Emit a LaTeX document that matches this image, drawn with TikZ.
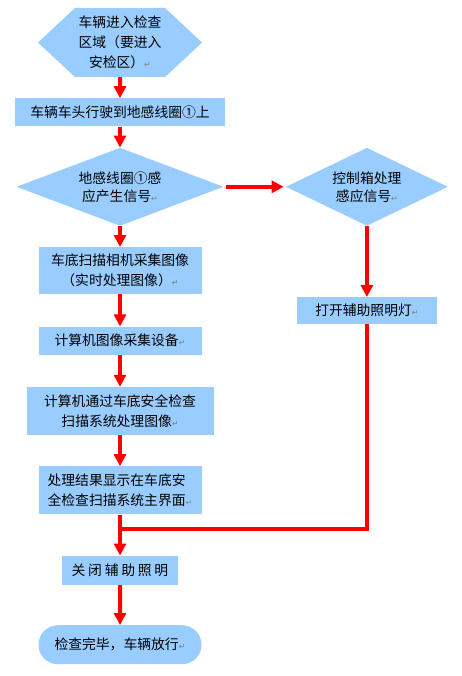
\documentclass[tikz,border=0pt]{standalone}
\usepackage{fontspec}
\newfontfamily\cjkfont{Noto Sans CJK SC}
\newfontfamily\markfont{DejaVu Sans}
\usepackage{xcolor}
\usetikzlibrary{arrows.meta,positioning,shapes.geometric,shapes.misc,shapes.symbols}
\definecolor{boxblue}{HTML}{99CCFF}
\definecolor{flowred}{HTML}{FF0000}
\newcommand{\parmark}{{\markfont\fontsize{8}{8}\selectfont\color{gray}↵}}

\begin{document}
\begin{tikzpicture}[x=1pt, y=1pt,
    node distance=21pt,
    base/.style={fill=boxblue, inner sep=0pt, align=center,
                 font=\cjkfont\fontsize{13.8}{20}\selectfont},
    box/.style={base, rectangle, minimum width=163pt, minimum height=28pt},
    hexbox/.style={base, signal, signal to=west and east, signal pointer angle=86,
                   minimum width=164pt, minimum height=69pt},
    decision/.style={base, diamond, minimum height=78pt,
                     font=\cjkfont\fontsize{13.8}{18}\selectfont},
    term/.style={base, rounded rectangle, minimum width=163pt, minimum height=39pt},
    arrow/.style={-{Triangle[width=12pt,length=12pt]}, flowred, line width=4pt},
    line/.style={flowred, line width=4pt}
  ]
    \useasboundingbox (0,0) rectangle (462,-676);

    \node[hexbox] (enter) at (120,-42.5) {车辆进入检查\\区域（要进入\\安检区）\parmark};
    \node[box, minimum width=210pt, below=21pt of enter] (drive) {车辆车头行驶到地感线圈①上};
    \node[decision, minimum width=207pt, aspect=2.65, below=21pt of drive] (coil) {地感线圈①感\\应产生信号\parmark};
    \node[decision, minimum width=162pt, aspect=2.08, right=62pt of coil] (ctrl) {控制箱处理\\感应信号\parmark};
    \node[box, minimum height=47pt, below=21pt of coil] (camera) {车底扫描相机采集图像\\（实时处理图像）\parmark};
    \node[box, below=32pt of camera] (grab) {计算机图像采集设备\parmark};
    \node[box, minimum width=187pt, minimum height=48pt, below=32pt of grab] (scan) {计算机通过车底安全检查\\扫描系统处理图像\parmark};
    \node[box, minimum height=48pt, align=left, below=31pt of scan] (show) {处理结果显示在车底安\\全检查扫描系统主界面\parmark};
    \node[box, minimum width=116pt, minimum height=29pt, below=41pt of show] (lightoff)
      {\addfontfeature{LetterSpace=20}关闭辅助照明};
    \node[term, below=40pt of lightoff] (done) {检查完毕，车辆放行\parmark};
    \node[box, minimum width=140pt, minimum height=27pt, below=71pt of ctrl] (lighton) {打开辅助照明灯\parmark};
    \coordinate[below=14pt of show] (merge);

    \draw[arrow] (enter) -- (drive);
    \draw[arrow] (drive) -- (coil);
    \draw[arrow, shorten <=2pt, shorten >=2pt] (coil) -- (ctrl);
    \draw[arrow] (coil) -- (camera);
    \draw[arrow] (camera) -- (grab);
    \draw[arrow] (grab) -- (scan);
    \draw[arrow] (scan) -- (show);
    \draw[arrow] (ctrl) -- (lighton);
    \draw[line] (lighton) |- (merge);
    \draw[arrow] (show) -- (lightoff);
    \draw[arrow] (lightoff) -- (done);
  \end{tikzpicture}
\end{document}
